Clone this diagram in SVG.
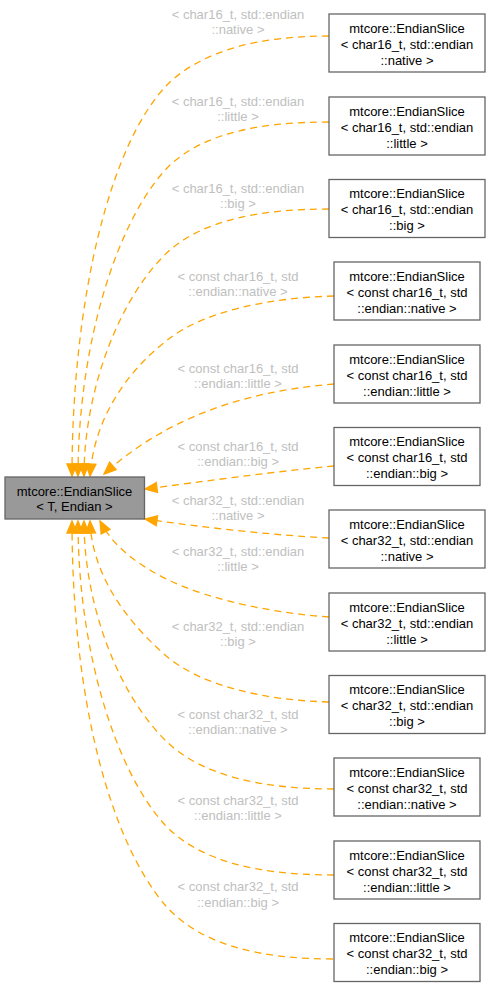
<svg xmlns="http://www.w3.org/2000/svg" width="490" height="987" viewBox="0 0 490 987">
<style>
text{font-family:"Liberation Sans",Helvetica,Arial,sans-serif;font-size:13px;text-anchor:middle}
.n rect{fill:#ffffff;stroke:#666666;stroke-width:1.3}
.n text{fill:#000000}
.root rect{fill:#999999;stroke:#666666;stroke-width:1.3}
.e path{fill:none;stroke:#ffa500;stroke-width:1.3;stroke-dasharray:7,5}
.lbl text{fill:#c0c0c0}
</style>
<defs>
<marker id="arr" markerUnits="userSpaceOnUse" markerWidth="14" markerHeight="12" refX="12" refY="5" orient="auto" overflow="visible">
<path d="M0,0 L12,5 L0,10 Z" fill="#ffa500" stroke="#ffa500" stroke-width="1.3"/>
</marker>
</defs>
<g id="edges" class="e">
<path marker-end="url(#arr)" d="M329,36 C260,36 205,50 170,82 C110,140 72,300 72,476"/>
<path marker-end="url(#arr)" d="M329,122 C260,122 205,133 170,165 C115,220 78,350 78,476"/>
<path marker-end="url(#arr)" d="M329,209 C260,209 205,220 170,250 C120,295 84,390 84,476"/>
<path marker-end="url(#arr)" d="M334,296 C265,298 205,312 170,338 C125,372 94,420 90,476"/>
<path marker-end="url(#arr)" d="M334,384 C260,390 175,410 104,474"/>
<path marker-end="url(#arr)" d="M334,466 C270,472 200,482 145,489"/>
<path marker-end="url(#arr)" d="M329,538 C270,535 200,527 145,519"/>
<path marker-end="url(#arr)" d="M329,617 C260,612 190,595 150,570 C125,555 110,540 100,521"/>
<path marker-end="url(#arr)" d="M329,702 C260,700 200,685 165,655 C120,615 92,570 90,521"/>
<path marker-end="url(#arr)" d="M334,789 C260,789 200,775 165,740 C115,690 84,600 84,521"/>
<path marker-end="url(#arr)" d="M334,875 C260,875 200,862 165,825 C115,770 78,650 78,521"/>
<path marker-end="url(#arr)" d="M333,959 C260,959 200,945 165,905 C110,840 72,700 72,521"/>
</g>
<g id="edge-labels" class="lbl">
<text x="238" y="18.5">&lt; char16_t, std::endian</text><text x="238" y="34">::native &gt;</text>
<text x="238" y="105.5">&lt; char16_t, std::endian</text><text x="238" y="121">::little &gt;</text>
<text x="238" y="192.5">&lt; char16_t, std::endian</text><text x="238" y="208">::big &gt;</text>
<text x="238" y="280.5">&lt; const char16_t, std</text><text x="238" y="296">::endian::native &gt;</text>
<text x="238" y="372.5">&lt; const char16_t, std</text><text x="238" y="388">::endian::little &gt;</text>
<text x="238" y="450.5">&lt; const char16_t, std</text><text x="238" y="466">::endian::big &gt;</text>
<text x="238" y="504.5">&lt; char32_t, std::endian</text><text x="238" y="520">::native &gt;</text>
<text x="238" y="555.5">&lt; char32_t, std::endian</text><text x="238" y="571">::little &gt;</text>
<text x="238" y="630.5">&lt; char32_t, std::endian</text><text x="238" y="646">::big &gt;</text>
<text x="238" y="718.5">&lt; const char32_t, std</text><text x="238" y="734">::endian::native &gt;</text>
<text x="238" y="804.5">&lt; const char32_t, std</text><text x="238" y="820">::endian::little &gt;</text>
<text x="238" y="891">&lt; const char32_t, std</text><text x="238" y="906.5">::endian::big &gt;</text>
</g>
<g id="node-root" class="n root">
<rect x="5" y="477" width="139.5" height="42"/>
<text x="74.5" y="495.5">mtcore::EndianSlice</text><text x="74.5" y="511">&lt; T, Endian &gt;</text>
</g>
<g id="node1" class="n"><rect x="329" y="14" width="156" height="58"/>
<text x="407" y="32.5">mtcore::EndianSlice</text><text x="407" y="48.5">&lt; char16_t, std::endian</text><text x="407" y="64.5">::native &gt;</text></g>
<g id="node2" class="n"><rect x="329" y="97" width="156" height="58"/>
<text x="407" y="115.5">mtcore::EndianSlice</text><text x="407" y="131.5">&lt; char16_t, std::endian</text><text x="407" y="147.5">::little &gt;</text></g>
<g id="node3" class="n"><rect x="329" y="179.5" width="156" height="58"/>
<text x="407" y="198">mtcore::EndianSlice</text><text x="407" y="214">&lt; char16_t, std::endian</text><text x="407" y="230">::big &gt;</text></g>
<g id="node4" class="n"><rect x="334" y="262" width="146" height="58"/>
<text x="407" y="280.5">mtcore::EndianSlice</text><text x="407" y="296.5">&lt; const char16_t, std</text><text x="407" y="312.5">::endian::native &gt;</text></g>
<g id="node5" class="n"><rect x="334" y="345" width="146" height="58"/>
<text x="407" y="363.5">mtcore::EndianSlice</text><text x="407" y="379.5">&lt; const char16_t, std</text><text x="407" y="395.5">::endian::little &gt;</text></g>
<g id="node6" class="n"><rect x="334" y="427.5" width="146" height="58"/>
<text x="407" y="446">mtcore::EndianSlice</text><text x="407" y="462">&lt; const char16_t, std</text><text x="407" y="478">::endian::big &gt;</text></g>
<g id="node7" class="n"><rect x="329" y="510" width="156" height="58"/>
<text x="407" y="528.5">mtcore::EndianSlice</text><text x="407" y="544.5">&lt; char32_t, std::endian</text><text x="407" y="560.5">::native &gt;</text></g>
<g id="node8" class="n"><rect x="329" y="593" width="156" height="58"/>
<text x="407" y="611.5">mtcore::EndianSlice</text><text x="407" y="627.5">&lt; char32_t, std::endian</text><text x="407" y="643.5">::little &gt;</text></g>
<g id="node9" class="n"><rect x="329" y="675.5" width="156" height="58"/>
<text x="407" y="694">mtcore::EndianSlice</text><text x="407" y="710">&lt; char32_t, std::endian</text><text x="407" y="726">::big &gt;</text></g>
<g id="node10" class="n"><rect x="334" y="758" width="146" height="58"/>
<text x="407" y="776.5">mtcore::EndianSlice</text><text x="407" y="792.5">&lt; const char32_t, std</text><text x="407" y="808.5">::endian::native &gt;</text></g>
<g id="node11" class="n"><rect x="334" y="841" width="146" height="58"/>
<text x="407" y="859.5">mtcore::EndianSlice</text><text x="407" y="875.5">&lt; const char32_t, std</text><text x="407" y="891.5">::endian::little &gt;</text></g>
<g id="node12" class="n"><rect x="334" y="923.5" width="146" height="58"/>
<text x="407" y="942">mtcore::EndianSlice</text><text x="407" y="958">&lt; const char32_t, std</text><text x="407" y="974">::endian::big &gt;</text></g>
</svg>
